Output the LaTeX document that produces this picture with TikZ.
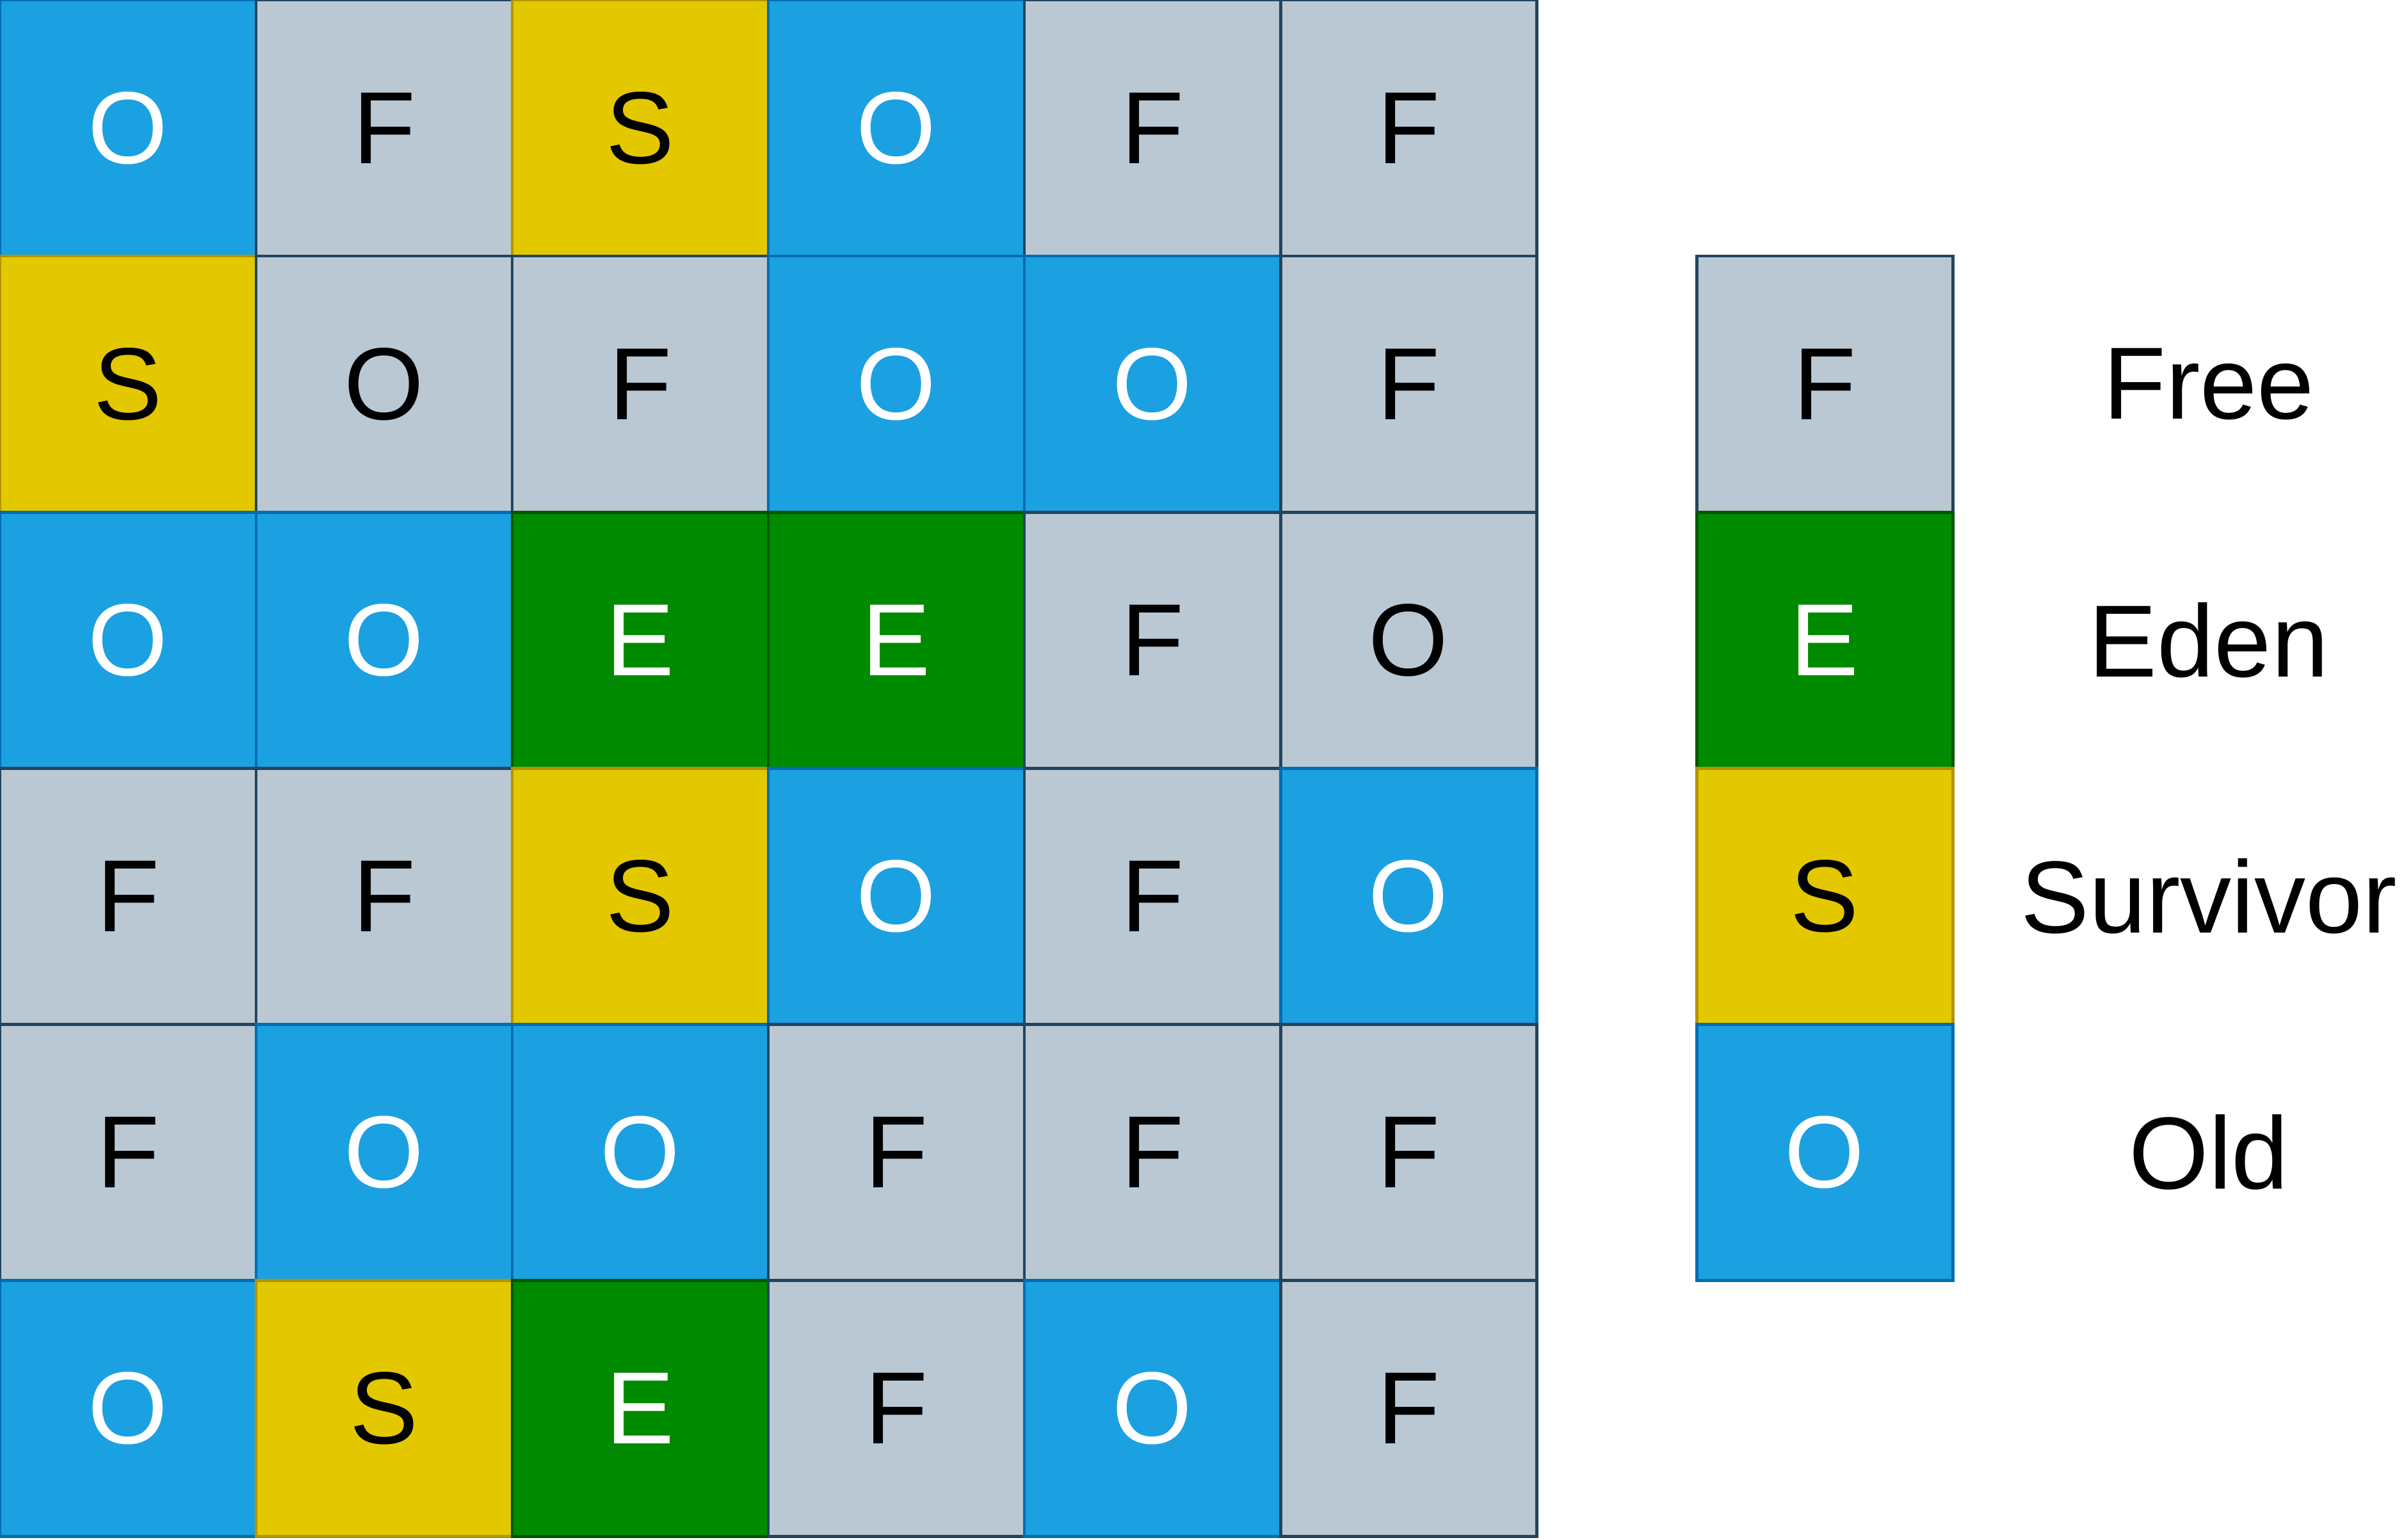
\documentclass[tikz,border=0pt]{standalone}
\usepackage{fontspec}
\setmainfont{Liberation Sans}
\usetikzlibrary{positioning}
\definecolor{oldfill}{HTML}{1BA1E2}
\definecolor{oldline}{HTML}{006EAF}
\definecolor{freefill}{HTML}{BAC8D3}
\definecolor{freeline}{HTML}{23445D}
\definecolor{survfill}{HTML}{E3C800}
\definecolor{survline}{HTML}{B09500}
\definecolor{edenfill}{HTML}{008A00}
\definecolor{edenline}{HTML}{005700}
\tikzset{
 cell/.style={minimum size=2cm,inner sep=0pt,outer sep=0pt,line width=0.7pt},
 old/.style={cell,fill=oldfill,draw=oldline,text=white},
 free/.style={cell,fill=freefill,draw=freeline,text=black},
 surv/.style={cell,fill=survfill,draw=survline,text=black},
 eden/.style={cell,fill=edenfill,draw=edenline,text=white},
 lbl/.style={text=black}
}
\begin{document}
\begin{tikzpicture}[font=\fontsize{22.8pt}{27pt}\selectfont]
 \useasboundingbox (0,0) rectangle (18.775,-12.025);
 % heap regions, row by row
 \foreach \row [count=\r] in {
 {old/O,free/F,surv/S,old/O,free/F,free/F},
 {surv/S,free/O,free/F,old/O,old/O,free/F},
 {old/O,old/O,eden/E,eden/E,free/F,free/O},
 {free/F,free/F,surv/S,old/O,free/F,old/O},
 {free/F,old/O,old/O,free/F,free/F,free/F},
 {old/O,surv/S,eden/E,free/F,old/O,free/F}}
 {
 \foreach \k/\t [count=\c] in \row
 \node[\k] (cell-\r-\c) at (2*\c-1,1-2*\r) {\t};
 }
 % legend
 \node[free] (keyF) at (14.25,-3) {F};
 \node[eden,below=0pt of keyF] (keyE) {E};
 \node[surv,below=0pt of keyE] (keyS) {S};
 \node[old,below=0pt of keyS] (keyO) {O};
 \node[lbl] (lblF) at ([xshift=3cm]keyF.center) {Free};
 \node[lbl] (lblE) at ([xshift=3cm]keyE.center) {Eden};
 \node[lbl] (lblS) at ([xshift=3cm]keyS.center) {Survivor};
 \node[lbl] (lblO) at ([xshift=3cm]keyO.center) {Old};
\end{tikzpicture}
\end{document}
